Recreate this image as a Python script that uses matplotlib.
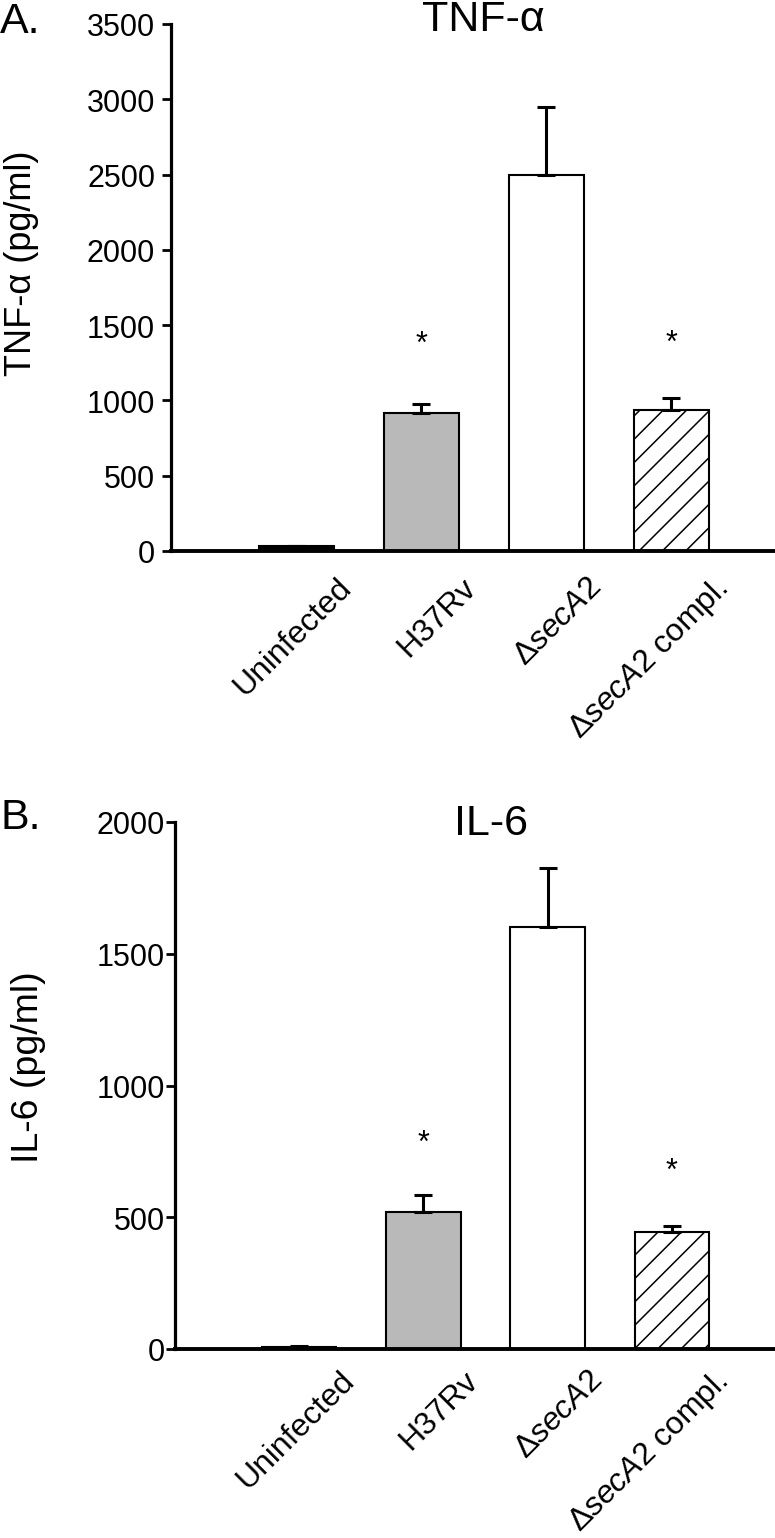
import matplotlib
matplotlib.use("Agg")
import matplotlib.pyplot as plt
import matplotlib.transforms as mtransforms

DPI = 140
W, H = 775, 1539
K = 100.0 / DPI  # convert "points at 100 dpi" to real points

plt.rcParams['font.family'] = ['Liberation Sans', 'DejaVu Sans']
plt.rcParams['mathtext.fontset'] = 'custom'
plt.rcParams['mathtext.rm'] = 'Liberation Sans'
plt.rcParams['mathtext.it'] = 'Liberation Sans:italic'
plt.rcParams['hatch.linewidth'] = 1.1 * K

categories = ['Uninfected', 'H37Rv', r'Δ$\mathit{secA2}$', r'Δ$\mathit{secA2}$ compl.']
tnf_values = [30, 916, 2500, 936]
tnf_errors = [5, 60, 450, 80]
tnf_stars = [None, 1375, None, 1385]
il6_values = [8, 519, 1600, 443]
il6_errors = [2, 64, 225, 23]
il6_stars = [None, 784, None, 674]

tnf_ticks = [0, 500, 1000, 1500, 2000, 2500, 3000, 3500]
il6_ticks = [0, 500, 1000, 1500, 2000]

faces = ['black', '#b9b9b9', 'white', 'white']
hatches = [None, None, None, '//']

fig = plt.figure(figsize=(W / DPI, H / DPI), dpi=DPI)


def px_rect(left, top, right, bottom):
    return [left / W, 1 - bottom / H, (right - left) / W, (bottom - top) / H]


def panel(rect, values, errors, stars, ticks, ylim, xlim, tick_pad, label_dy):
    ax = fig.add_axes(rect)
    x = list(range(len(categories)))
    for i in x:
        ax.bar(i, values[i], width=0.6, color=faces[i], edgecolor='black',
               linewidth=1.5 * K, hatch=hatches[i], zorder=2)
        ax.errorbar(i, values[i], yerr=[[0], [errors[i]]], fmt='none',
                    ecolor='black', elinewidth=2.2 * K, capsize=6.5 * K,
                    capthick=2.2 * K, zorder=3)
        if stars[i] is not None:
            ax.text(i, stars[i], '*', ha='center', va='center', fontsize=22 * K)
    ax.set_xlim(*xlim)
    ax.set_ylim(*ylim)
    ax.set_yticks(ticks)
    ax.set_yticklabels([str(t) for t in ticks], fontsize=22 * K)
    ax.tick_params(axis='y', direction='out', length=6.5 * K, width=2 * K, pad=tick_pad * K)
    ax.tick_params(axis='x', length=0)
    ax.set_xticks(x)
    ax.set_xticklabels(categories, fontsize=23 * K, rotation=45, ha='right',
                       va='top', rotation_mode='anchor')
    offset = mtransforms.ScaledTranslation(40 / DPI, -label_dy / DPI, fig.dpi_scale_trans)
    for lab in ax.get_xticklabels():
        lab.set_transform(lab.get_transform() + offset)
    for s in ['top', 'right']:
        ax.spines[s].set_visible(False)
    ax.spines['left'].set_linewidth(2.3 * K)
    ax.spines['bottom'].set_linewidth(2.8 * K)
    return ax


ax1 = panel(px_rect(171, 25, 775, 552), tnf_values, tnf_errors, tnf_stars,
            tnf_ticks, (0, 3500), (-1.0, 3.83), 5, 14)
ax2 = panel(px_rect(175, 823, 775, 1350), il6_values, il6_errors, il6_stars,
            il6_ticks, (0, 2000), (-1.0, 3.83), 1, 9)

# titles, axis labels, panel letters (positions in pixels)
def ftext(xp, yp, s, size, **kw):
    fig.text(xp / W, 1 - yp / H, s, fontsize=size * K, **kw)

ftext(483, 20, 'TNF-α', 31, ha='center', va='center')
ftext(491, 824, 'IL-6', 31, ha='center', va='center')
ftext(22, 263, 'TNF-α (pg/ml)', 26, ha='center', va='center', rotation=90)
ftext(29, 1067, 'IL-6 (pg/ml)', 27, ha='center', va='center', rotation=90)
ftext(0, 2, 'A.', 31, ha='left', va='top')
ftext(0, 798, 'B.', 31, ha='left', va='top')

fig.savefig('out.png', dpi=DPI)
